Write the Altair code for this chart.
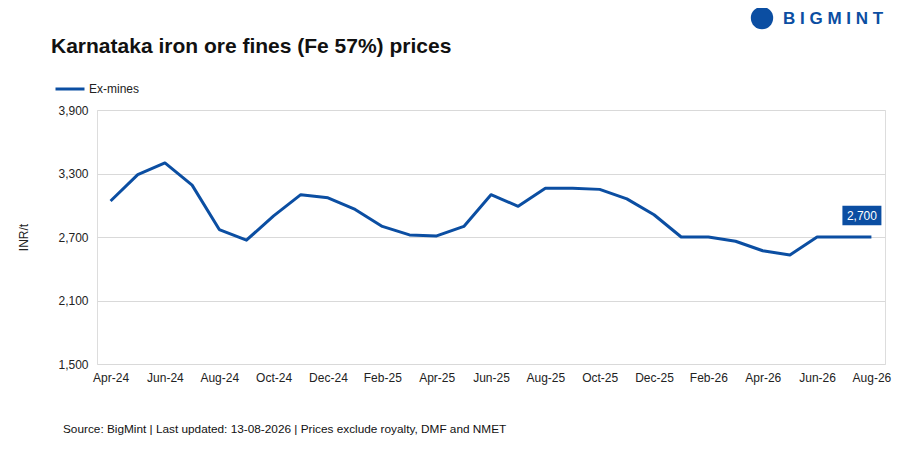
import altair as alt
import pandas as pd

months = ["Apr-24", "May-24", "Jun-24", "Jul-24", "Aug-24", "Sep-24", "Oct-24", "Nov-24",
          "Dec-24", "Jan-25", "Feb-25", "Mar-25", "Apr-25", "May-25", "Jun-25", "Jul-25",
          "Aug-25", "Sep-25", "Oct-25", "Nov-25", "Dec-25", "Jan-26", "Feb-26", "Mar-26",
          "Apr-26", "May-26", "Jun-26", "Jul-26", "Aug-26"]
ex_mines = [3040, 3290, 3400, 3190, 2770, 2670, 2900, 3100,
            3070, 2960, 2800, 2720, 2710, 2800, 3100, 2990,
            3160, 3160, 3150, 3060, 2910, 2700, 2700, 2660,
            2570, 2530, 2700, 2700, 2700]
series_name = "Ex-mines"
y_ticks = [1500, 2100, 2700, 3300, 3900]
x_label_months = months[::2]

title_text = "Karnataka iron ore fines (Fe 57%) prices"
source_text = "Source: BigMint | Last updated: 13-08-2026 | Prices exclude royalty, DMF and NMET"
y_title = "INR/t"
brand = "B I G M I N T"

BLUE = "#0b4ea2"
FONT = "Liberation Sans"

df = pd.DataFrame({"month": months, "price": ex_mines, "series": series_name})
last = df.tail(1).copy()
last["label"] = last["price"].map(lambda v: f"{v:,}")

x_enc = alt.X("month:O", sort=months, scale=alt.Scale(type="point", padding=0.5),
              axis=alt.Axis(values=x_label_months, labelAngle=0, ticks=False, domain=False,
                            grid=False, title=None, labelFontSize=12, labelColor="#222",
                            labelPadding=8, labelFont=FONT))
y_enc = alt.Y("price:Q", scale=alt.Scale(domain=[1500, 3900], nice=False, zero=False),
              axis=alt.Axis(values=y_ticks, format=",.0f", ticks=False, domain=False,
                            gridColor="#d9d9d9", gridWidth=1, labelFontSize=12,
                            labelColor="#222", labelPadding=9, labelFont=FONT,
                            title=y_title, titleFontWeight="normal", titleFontSize=12,
                            titleColor="#222", titleFont=FONT, titleX=-67, titleY=127,
                            titleAngle=-90))

line = alt.Chart(df).mark_line(strokeWidth=3, strokeJoin="round").encode(
    x=x_enc, y=y_enc,
    color=alt.Color("series:N", scale=alt.Scale(range=[BLUE]),
                    legend=alt.Legend(title=None, orient="none", legendX=-43, legendY=-37,
                                      symbolType="stroke", symbolSize=841,
                                      symbolStrokeWidth=3, labelFontSize=12,
                                      labelFont=FONT, labelColor="#222", labelOffset=3)),
)

box_path = "M-1,-0.5L1,-0.5L1,0.5L-1,0.5Z"
box = alt.Chart(last).mark_point(shape=box_path, size=1521, filled=True, opacity=1,
                                 color=BLUE, xOffset=-9.5, yOffset=-21.5).encode(
    x=alt.X("month:O", sort=months), y="price:Q")
box_text = alt.Chart(last).mark_text(color="white", fontSize=12, font=FONT,
                                     dx=-9.5, dy=-21.5, align="center",
                                     baseline="middle").encode(
    x=alt.X("month:O", sort=months), y="price:Q", text="label:N")

title = alt.Chart(pd.DataFrame({"t": [title_text]})).mark_text(
    align="left", baseline="alphabetic", fontSize=21, fontWeight="bold", font=FONT,
    color="#111").encode(x=alt.value(-46), y=alt.value(-57), text="t:N")
source = alt.Chart(pd.DataFrame({"t": [source_text]})).mark_text(
    align="left", baseline="alphabetic", fontSize=11.8, font=FONT, color="#111").encode(
    x=alt.value(-34), y=alt.value(323), text="t:N")
logo_icon = alt.Chart(pd.DataFrame({"t": ["logo"]})).mark_point(
    shape="circle", filled=True, opacity=1, size=500, color=BLUE).encode(
    x=alt.value(665), y=alt.value(-92))
logo_text = alt.Chart(pd.DataFrame({"t": [brand]})).mark_text(
    align="left", baseline="middle", fontSize=17, fontWeight="bold", font=FONT,
    color=BLUE).encode(x=alt.value(686), y=alt.value(-91), text="t:N")

chart = alt.layer(line, box, box_text, title, source, logo_icon, logo_text).properties(
    width=788, height=254,
    autosize=alt.AutoSizeParams(type="none"),
    padding={"left": 89, "top": 102, "right": 14, "bottom": 88},
).configure_view(stroke=None).configure(background="white")

chart.save("out.html", embed_options={"renderer": "svg", "actions": False})
